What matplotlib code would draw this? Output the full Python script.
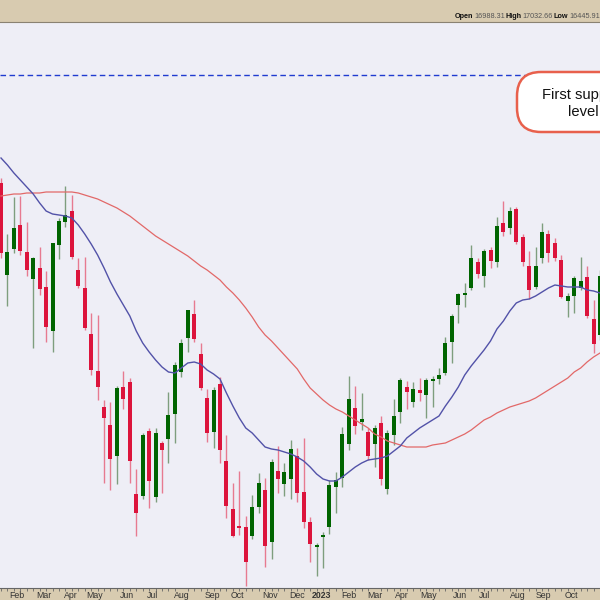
import matplotlib
matplotlib.use("Agg")
import matplotlib.pyplot as plt
from matplotlib.patches import FancyBboxPatch
import numpy as np

# ---- weekly candles (price units) ----
opens = [417, 325, 351, 375, 348, 321, 332, 313, 269, 355, 378, 389, 330, 312, 266, 229,
         193, 175, 144, 213, 218, 106, 104, 169, 103, 157, 161, 186, 228, 262, 286, 246,
         202, 168, 216, 139, 91, 74, 73, 64, 93, 110, 58, 129, 116, 121, 144, 108,
         78, 53, 63, 73, 113, 122, 156, 192, 178, 168, 156, 177, 111, 165, 188, 213,
         198, 210, 205, 219, 221, 227, 258, 295, 305, 312, 338, 324, 350, 338, 377, 372,
         391, 363, 334, 313, 342, 366, 357, 340, 299, 304, 312, 323, 281, 265]
highs = [422, 366, 403, 404, 378, 343, 353, 329, 357, 382, 414, 405, 342, 343, 287, 285,
         200, 198, 214, 229, 222, 131, 167, 172, 172, 159, 208, 238, 261, 290, 300, 257,
         211, 213, 223, 165, 117, 129, 84, 105, 127, 122, 141, 154, 137, 160, 152, 162,
         83, 57, 68, 120, 128, 173, 224, 214, 207, 172, 175, 184, 170, 201, 222, 219,
         218, 222, 222, 224, 232, 263, 286, 307, 317, 355, 342, 351, 353, 383, 399, 393,
         393, 366, 349, 353, 377, 370, 362, 345, 307, 324, 343, 334, 300, 330]
lows = [342, 294, 347, 345, 324, 252, 305, 258, 248, 341, 373, 341, 312, 270, 225, 200,
        117, 110, 116, 191, 117, 64, 101, 92, 98, 107, 137, 157, 223, 248, 258, 210,
        158, 152, 137, 82, 63, 65, 14, 61, 87, 33, 41, 107, 104, 101, 98, 72,
        38, 24, 32, 66, 87, 113, 150, 166, 170, 140, 133, 115, 106, 155, 177, 191,
        193, 199, 182, 193, 216, 225, 237, 277, 293, 310, 322, 313, 332, 333, 364, 366,
        356, 334, 301, 311, 337, 338, 339, 302, 283, 287, 310, 282, 247, 260]
closes = [347, 348, 372, 349, 330, 342, 311, 273, 357, 379, 385, 343, 314, 272, 230, 213,
          182, 141, 212, 201, 139, 87, 165, 119, 167, 150, 185, 235, 257, 290, 261, 212,
          167, 210, 150, 94, 64, 72, 38, 93, 117, 54, 138, 121, 128, 151, 107, 78,
          56, 55, 65, 115, 120, 166, 201, 174, 181, 144, 172, 121, 167, 184, 220, 208,
          211, 207, 220, 221, 225, 257, 284, 306, 307, 342, 326, 349, 339, 374, 368, 389,
          358, 338, 310, 334, 368, 347, 342, 303, 304, 322, 319, 284, 256, 324]

# ---- moving averages (at each week) ----
ma_fast = [442, 435, 427, 420, 413, 406, 397, 389, 386, 385, 384, 382, 375, 366, 356, 345,
           332, 318, 306, 295, 284, 269, 257, 248, 240, 233, 228, 227, 232, 237, 238, 236,
           230, 226, 221, 207, 194, 182, 172, 167, 160, 153, 151, 150, 148, 146, 143, 139,
           133, 126, 121, 119, 119, 123, 128, 133, 137, 140, 141, 142, 144, 149, 154, 162,
           167, 172, 176, 180, 184, 194, 203, 213, 225, 234, 242, 250, 259, 271, 279, 289,
           297, 300, 301, 304, 308, 312, 315, 314, 313, 313, 313, 310, 309, 307]
ma_slow = [404, 405, 406, 406, 407, 407, 407, 408, 408, 408, 408, 408, 407, 405, 403, 401,
           398, 395, 392, 388, 384, 379, 374, 369, 364, 360, 356, 352, 348, 344, 339, 334,
           330, 325, 320, 313, 307, 300, 292, 283, 273, 265, 259, 252, 245, 238, 231, 221,
           212, 206, 200, 195, 191, 188, 184, 180, 176, 172, 166, 163, 159, 157, 155, 153,
           153, 153, 153, 155, 156, 157, 160, 163, 166, 170, 175, 180, 183, 187, 190, 193,
           195, 197, 199, 202, 206, 210, 214, 218, 222, 228, 232, 238, 243, 247]

support_level = 525

month_labels = ["Feb", "Mar", "Apr", "May", "Jun", "Jul", "Aug", "Sep", "Oct", "Nov", "Dec",
                "2023", "Feb", "Mar", "Apr", "May", "Jun", "Jul", "Aug", "Sep", "Oct"]
month_pos = [2.5, 6.6, 10.8, 14.6, 19.6, 23.5, 28.0, 32.8, 36.7, 41.7, 45.9,
             49.7, 54.0, 58.0, 62.2, 66.4, 71.2, 75.1, 80.2, 84.2, 88.6]

header = [("Open", True, 455), ("16988.31", False, 474), ("High", True, 505),
          ("17032.66", False, 522), ("Low", True, 553), ("16445.91", False, 569)]

# ---- styling ----
TAN = "#D8CBB0"
BG = "#EEEEF6"
GREEN = "#006400"
RED = "#DC143C"
GREEN_WICK = "#7E9E7E"
RED_WICK = "#E77A90"

plt.rcParams["font.family"] = ["Liberation Sans", "DejaVu Sans"]

fig = plt.figure(figsize=(6, 6), dpi=100)
fig.patch.set_facecolor(TAN)
ax = fig.add_axes([0, 12 / 600, 1, 566 / 600])
ax.set_facecolor(BG)

o = np.array(opens, float)
h = np.array(highs, float)
l = np.array(lows, float)
c = np.array(closes, float)
idx = np.arange(len(o))
up = c >= o
bb = np.minimum(o, c)
bh = np.maximum(np.abs(c - o), 1.6)

ax.vlines(idx[up], l[up], h[up], color=GREEN_WICK, lw=1.0, zorder=2)
ax.vlines(idx[~up], l[~up], h[~up], color=RED_WICK, lw=1.0, zorder=2)
ax.bar(idx[up], bh[up], bottom=bb[up], width=0.62, color=GREEN, linewidth=0, zorder=3)
ax.bar(idx[~up], bh[~up], bottom=bb[~up], width=0.62, color=RED, linewidth=0, zorder=3)

ax.plot(idx, ma_slow, color="#E26868", lw=0.9, zorder=4)
ax.plot(idx, ma_fast, color="#5252A8", lw=1.0, zorder=4)

ax.axhline(support_level, color="#1F3BD0", lw=1.0, ls=(0, (4, 2.5)), zorder=4)

ax.set_xlim(-0.155, 92.93)
ax.set_ylim(12, 578)
ax.set_yticks([])
ax.set_xticks(month_pos)
ax.set_xticklabels(month_labels)
for t in ax.get_xticklabels():
    t.set_fontsize(6.3)
    t.set_color("#333333")
    if t.get_text() == "2023":
        t.set_fontweight("bold")
ax.set_xticks(idx, minor=True)
ax.tick_params(axis="x", which="major", length=0, pad=2.5)
ax.tick_params(axis="x", which="minor", length=1.8, width=0.6, color="#666666", direction="out")
for side in ["left", "right"]:
    ax.spines[side].set_visible(False)
ax.spines["bottom"].set_color("#666666")
ax.spines["bottom"].set_linewidth(0.8)
ax.spines["top"].set_color("#8A8272")
ax.spines["top"].set_linewidth(0.8)

# header text
for txt, bold, xp in header:
    fig.text(xp / 600, 1 - 16 / 600, txt, ha="left", va="center",
             fontsize=5.2, fontweight="bold" if bold else "normal",
             color="#111111" if bold else "#555555")

# annotation box
box = FancyBboxPatch((517 / 600, 1 - 132 / 600), 0.215, 0.1,
                     boxstyle="round,pad=0,rounding_size=0.04",
                     transform=fig.transFigure, facecolor="white",
                     edgecolor="#E8604C", linewidth=1.8, zorder=5)
fig.add_artist(box)
fig.text(583 / 600, 1 - 103.5 / 600, "First support\nlevel", ha="center", va="center",
         fontsize=10.6, linespacing=1.25, color="#111111", zorder=6)

fig.savefig("out.png", dpi=100, facecolor=fig.get_facecolor())
